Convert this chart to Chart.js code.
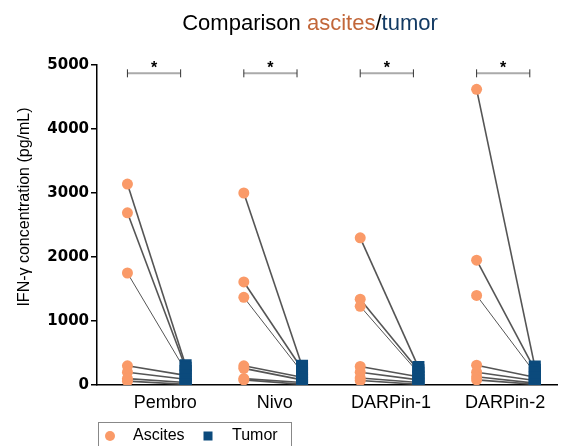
<!DOCTYPE html>
<html>
<head>
<meta charset="utf-8">
<script src="https://cdn.jsdelivr.net/npm/chart.js@4.4.0/dist/chart.umd.min.js"></script>
<style>
  html, body { margin: 0; padding: 0; background: #fff; }
  #wrap { width: 566px; height: 446px; position: relative; }
</style>
</head>
<body>
<div id="wrap"><canvas id="grafico"></canvas></div>
<script>
// ======== Dados ========
const grupos = ['Pembro', 'Nivo', 'DARPin-1', 'DARPin-2'];
const yTicks = [0, 1000, 2000, 3000, 4000, 5000];

// Ascites x Tumor por doador (mesma ordem = mesmo par)
const ascitesPembro = [3140, 2690, 1750, 300, 200, 100, 60];
const tumorPembro   = [310, 270, 220, 150, 90, 40, 10];
const ascitesNivo   = [3000, 1610, 1370, 300, 260, 100, 80];
const tumorNivo     = [300, 250, 200, 120, 80, 40, 10];
const ascitesDarp1  = [2300, 1340, 1230, 290, 200, 110, 70];
const tumorDarp1    = [280, 230, 190, 130, 80, 40, 10];
const ascitesDarp2  = [4620, 1950, 1400, 310, 200, 130, 80];
const tumorDarp2    = [290, 240, 190, 120, 70, 30, 10];

const ascites = [ascitesPembro, ascitesNivo, ascitesDarp1, ascitesDarp2];
const tumor   = [tumorPembro, tumorNivo, tumorDarp1, tumorDarp2];

// ======== Cores ========
const COR = {
  ascites: '#fa9a68',
  tumor:   '#0b4a7c',
  titleAsc: '#c2673a',
  titleTum: '#123a63',
  linha:   '#555555',
  ink:     '#000000'
};

// posição dos rótulos das categorias (eixo x linear)
const labelPos = [0.65, 2.53, 4.53, 6.49];

// datasets: uma linha por par, depois os pontos
const datasets = [];
grupos.forEach((g, gi) => {
  ascites[gi].forEach((a, k) => {
    datasets.push({
      type: 'line',
      data: [{ x: gi * 2, y: a }, { x: gi * 2 + 1, y: tumor[gi][k] }],
      borderColor: COR.linha,
      borderWidth: k === 2 ? 1 : 1.6,
      pointRadius: 0,
      order: 2
    });
  });
});
datasets.push({
  type: 'scatter',
  label: 'Tumor',
  data: tumor.flatMap((arr, gi) => arr.map(v => ({ x: gi * 2 + 1, y: v }))),
  pointStyle: 'rect',
  pointRadius: 8.5,
  backgroundColor: COR.tumor,
  borderColor: COR.tumor,
  borderWidth: 0,
  order: 1
});
datasets.push({
  type: 'scatter',
  label: 'Ascites',
  data: ascites.flatMap((arr, gi) => arr.map(v => ({ x: gi * 2, y: v }))),
  pointStyle: 'circle',
  pointRadius: 5.5,
  backgroundColor: COR.ascites,
  borderColor: COR.ascites,
  borderWidth: 0,
  order: 0
});

// título colorido, título do eixo y, colchetes de significância e legenda
const extras = {
  id: 'extras',
  afterDraw(chart) {
    const { ctx, scales: { x, y } } = chart;
    ctx.save();

    // título
    const partes = [['Comparison ', COR.ink], ['ascites', COR.titleAsc], ['/', COR.ink], ['tumor', COR.titleTum]];
    ctx.font = '22px "Liberation Sans", Arial, sans-serif';
    ctx.textBaseline = 'alphabetic';
    ctx.textAlign = 'left';
    const total = partes.reduce((s, p) => s + ctx.measureText(p[0]).width, 0);
    let tx = 310 - total / 2;
    partes.forEach(([t, c]) => {
      ctx.fillStyle = c;
      ctx.fillText(t, tx, 30);
      tx += ctx.measureText(t).width;
    });

    // título eixo y
    ctx.save();
    ctx.translate(25, 207);
    ctx.rotate(-Math.PI / 2);
    ctx.font = '16px "Liberation Sans", Arial, sans-serif';
    ctx.fillStyle = COR.ink;
    ctx.textAlign = 'center';
    ctx.textBaseline = 'middle';
    ctx.fillText('IFN-γ concentration (pg/mL)', 0, 0);
    ctx.restore();

    // colchetes *
    const yb = y.getPixelForValue(4870);
    grupos.forEach((g, gi) => {
      const x1 = x.getPixelForValue(gi * 2);
      const x2 = x.getPixelForValue(gi * 2 + 1) - 5;
      ctx.strokeStyle = '#aaaaaa';
      ctx.lineWidth = 2;
      ctx.beginPath(); ctx.moveTo(x1, yb); ctx.lineTo(x2, yb); ctx.stroke();
      ctx.strokeStyle = '#333333';
      ctx.lineWidth = 1;
      [x1, x2].forEach(xx => { ctx.beginPath(); ctx.moveTo(xx, yb - 4); ctx.lineTo(xx, yb + 4); ctx.stroke(); });
      ctx.fillStyle = COR.ink;
      ctx.font = 'bold 16px "Liberation Sans", Arial, sans-serif';
      ctx.textAlign = 'center';
      ctx.textBaseline = 'middle';
      ctx.fillText('*', (x1 + x2) / 2, yb - 5);
    });

    // legenda
    ctx.strokeStyle = '#888888';
    ctx.lineWidth = 1;
    ctx.strokeRect(98.5, 422.5, 193, 30);
    ctx.fillStyle = COR.ascites;
    ctx.beginPath(); ctx.arc(110, 436, 5, 0, Math.PI * 2); ctx.fill();
    ctx.fillStyle = COR.tumor;
    ctx.fillRect(203.5, 431.5, 9, 9);
    ctx.fillStyle = COR.ink;
    ctx.font = '16px "Liberation Sans", Arial, sans-serif';
    ctx.textAlign = 'left';
    ctx.textBaseline = 'middle';
    ctx.fillText('Ascites', 133, 436);
    ctx.fillText('Tumor', 232, 436);

    ctx.restore();
  }
};

new Chart(document.getElementById('grafico'), {
  data: { datasets },
  options: {
    responsive: true,
    maintainAspectRatio: false,
    animation: false,
    layout: { padding: { top: 65, left: 0, right: 0, bottom: 0 } },
    plugins: {
      legend: { display: false },
      title: { display: false },
      tooltip: { enabled: false }
    },
    scales: {
      x: {
        type: 'linear',
        min: -0.523,
        max: 7.39,
        afterFit: s => { s.height = 61; },
        afterBuildTicks: s => { s.ticks = labelPos.map(v => ({ value: v })); },
        grid: { drawOnChartArea: false, drawTicks: false },
        border: { display: true, color: COR.ink, width: 1.5 },
        ticks: {
          padding: 7,
          color: COR.ink,
          font: { family: '"Liberation Sans", Arial, sans-serif', size: 18 },
          maxRotation: 0,
          autoSkip: false,
          callback: (v, i) => grupos[i]
        }
      },
      y: {
        min: 0,
        max: 5000,
        afterFit: s => { s.width = 97; },
        afterBuildTicks: s => { s.ticks = yTicks.map(v => ({ value: v })); },
        grid: { drawOnChartArea: false, tickLength: 6, color: COR.ink, lineWidth: 1.5 },
        border: { display: true, color: COR.ink, width: 1.5 },
        ticks: {
          padding: 2,
          color: COR.ink,
          font: { family: '"DejaVu Sans", sans-serif', size: 15, weight: 'bold' },
          callback: v => String(v)
        }
      }
    }
  },
  plugins: [extras]
});
</script>
</body>
</html>
